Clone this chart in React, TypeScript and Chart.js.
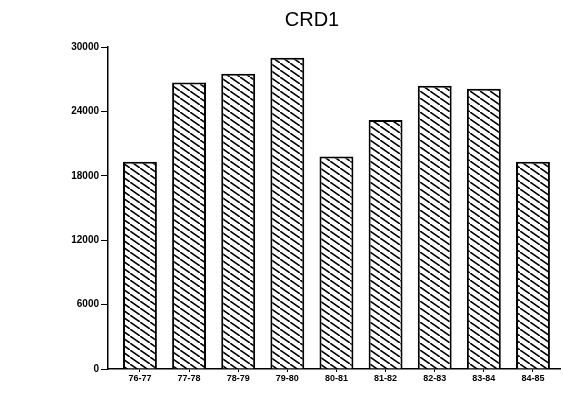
import React, { useEffect, useRef } from "react";
import { Chart, registerables } from "chart.js";

Chart.register(...registerables);

const categories = ["76-77", "77-78", "78-79", "79-80", "80-81", "81-82", "82-83", "83-84", "84-85"];
const values = [19300, 26700, 27500, 29000, 19800, 23200, 26400, 26100, 19300];
const yTicks = [0, 6000, 12000, 18000, 24000, 30000];
const titleText = "CRD1";

function makeHatch(): CanvasPattern | string {
  const w = 10;
  const h = 7;
  const c = document.createElement("canvas");
  c.width = w;
  c.height = h;
  const ctx = c.getContext("2d");
  if (!ctx) return "#fff";
  ctx.fillStyle = "#ffffff";
  ctx.fillRect(0, 0, w, h);
  ctx.strokeStyle = "#000000";
  ctx.lineWidth = 1.6;
  ctx.beginPath();
  ctx.moveTo(-w, -h);
  ctx.lineTo(2 * w, 2 * h);
  ctx.stroke();
  const p = ctx.createPattern(c, "repeat");
  return p || "#fff";
}

export default function App() {
  const ref = useRef<HTMLCanvasElement | null>(null);

  useEffect(() => {
    if (!ref.current) return;
    const hatch = makeHatch();
    const chart = new Chart(ref.current, {
      type: "bar",
      data: {
        datasets: [
          {
            data: values.map((v, i) => ({ x: i, y: v })),
            backgroundColor: hatch as any,
            borderColor: "#000",
            borderWidth: 2,
            categoryPercentage: 1,
            barPercentage: 0.69,
          },
        ],
      },
      options: {
        animation: false,
        responsive: true,
        maintainAspectRatio: false,
        layout: { padding: { left: 64, right: 4, top: 0, bottom: 0 } },
        plugins: {
          legend: { display: false },
          tooltip: { enabled: false },
          title: {
            display: true,
            text: titleText,
            color: "#000",
            font: { family: "Liberation Sans", size: 20, weight: "normal" as any },
            padding: { top: 8, bottom: 15 },
          },
        },
        scales: {
          x: {
            type: "linear",
            offset: false,
            min: -0.65,
            max: 8.55,
            afterBuildTicks: (scale: any) => {
              scale.ticks = categories.map((_, i) => ({ value: i }));
            },
            afterFit: (scale: any) => {
              scale.height = 24;
            },
            ticks: {
              autoSkip: false,
              maxRotation: 0,
              padding: 1,
              color: "#000",
              font: { family: "Liberation Sans", size: 9, weight: "bold" as any },
              callback: (v: any) => categories[Math.round(Number(v))] ?? "",
            },
            grid: {
              offset: false,
              drawOnChartArea: false,
              drawTicks: true,
              tickLength: 3,
              color: "#000",
            },
            border: { display: true, color: "#000", width: 1.5 },
          },
          y: {
            min: 0,
            max: 30000,
            afterBuildTicks: (scale: any) => {
              scale.ticks = yTicks.map((v) => ({ value: v }));
            },
            afterFit: (scale: any) => {
              scale.width = 44;
            },
            ticks: {
              padding: 2,
              color: "#000",
              font: { family: "Liberation Sans", size: 10, weight: "bold" as any },
              callback: (v: any) => String(v),
            },
            grid: {
              drawOnChartArea: false,
              drawTicks: true,
              tickLength: 7,
              color: "#000",
            },
            border: { display: true, color: "#000", width: 1.5 },
          },
        },
      },
    });
    return () => chart.destroy();
  }, []);

  return (
    <div style={{ position: "absolute", left: 0, top: 0, width: 564, height: 393, background: "#fff" }}>
      <canvas ref={ref} />
    </div>
  );
}
